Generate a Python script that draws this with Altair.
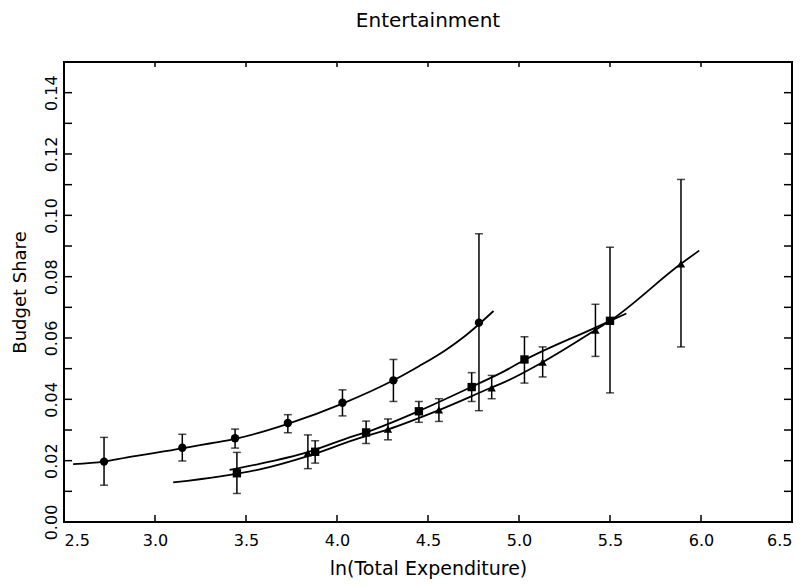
import altair as alt
import pandas as pd

# ---- axis ticks / labels ----
x_ticks = [2.5, 3.0, 3.5, 4.0, 4.5, 5.0, 5.5, 6.0, 6.5]
y_minor_ticks = [0.00, 0.01, 0.02, 0.03, 0.04, 0.05, 0.06, 0.07, 0.08,
                 0.09, 0.10, 0.11, 0.12, 0.13, 0.14, 0.15]
y_label_vals = [0.00, 0.02, 0.04, 0.06, 0.08, 0.10, 0.12, 0.14]

# ---- observed points with error bars ----
circle_x = [2.72, 3.15, 3.44, 3.73, 4.03, 4.31, 4.78]
circle_y = [0.0197, 0.0242, 0.0273, 0.0323, 0.0389, 0.0462, 0.0650]
circle_hi = [0.0276, 0.0286, 0.0303, 0.0350, 0.0431, 0.0530, 0.0940]
circle_lo = [0.0120, 0.0199, 0.0241, 0.0291, 0.0346, 0.0393, 0.0363]

square_x = [3.45, 3.88, 4.16, 4.45, 4.74, 5.03, 5.50]
square_y = [0.0159, 0.0229, 0.0292, 0.0361, 0.0440, 0.0530, 0.0656]
square_hi = [0.0227, 0.0265, 0.0329, 0.0393, 0.0487, 0.0604, 0.0896]
square_lo = [0.0093, 0.0192, 0.0256, 0.0325, 0.0393, 0.0453, 0.0421]

triangle_x = [3.84, 4.28, 4.56, 4.85, 5.13, 5.42, 5.89]
triangle_y = [0.0225, 0.0303, 0.0366, 0.0437, 0.0521, 0.0626, 0.0842]
triangle_hi = [0.0284, 0.0336, 0.0402, 0.0478, 0.0571, 0.0710, 0.1117]
triangle_lo = [0.0174, 0.0268, 0.0328, 0.0402, 0.0473, 0.0540, 0.0571]

# ---- fitted curves ----
circle_curve_x = [2.55, 2.72, 2.84, 3.15, 3.30, 3.44, 3.73, 4.03, 4.31, 4.45, 4.60, 4.70,
                  4.78, 4.86]
circle_curve_y = [0.0189, 0.0197, 0.0210, 0.0240, 0.0256, 0.0271, 0.0320, 0.0386, 0.0462,
                  0.0508, 0.0562, 0.0605, 0.0645, 0.0688]

square_curve_x = [3.41, 3.57, 3.84, 4.09, 4.16, 4.45, 4.74, 4.92, 5.03, 5.42, 5.50, 5.59]
square_curve_y = [0.0170, 0.0189, 0.0228, 0.0280, 0.0293, 0.0362, 0.0441, 0.0492, 0.0528,
                  0.0634, 0.0656, 0.0680]

triangle_curve_x = [3.10, 3.35, 3.57, 3.84, 4.09, 4.28, 4.56, 4.84, 4.92, 5.13, 5.42, 5.50,
                    5.89, 5.99]
triangle_curve_y = [0.0129, 0.0148, 0.0171, 0.0215, 0.0267, 0.0302, 0.0365, 0.0436, 0.0456,
                    0.0521, 0.0626, 0.0656, 0.0842, 0.0885]

# ---- tables ----
def pts(name, xs, ys, los, his):
    return pd.DataFrame({"series": name, "x": xs, "y": ys, "lo": los, "hi": his})

points = pd.concat([
    pts("circle", circle_x, circle_y, circle_lo, circle_hi),
    pts("square", square_x, square_y, square_lo, square_hi),
    pts("triangle", triangle_x, triangle_y, triangle_lo, triangle_hi),
], ignore_index=True)

def crv(name, xs, ys):
    return pd.DataFrame({"series": name, "x": xs, "y": ys, "order": list(range(len(xs)))})

curves = pd.concat([
    crv("circle", circle_curve_x, circle_curve_y),
    crv("square", square_curve_x, square_curve_y),
    crv("triangle", triangle_curve_x, triangle_curve_y),
], ignore_index=True)

W, H = 728, 460
FONT = "DejaVu Sans"

xscale = alt.Scale(domain=[2.5, 6.5], nice=False, zero=False)
yscale = alt.Scale(domain=[0.0, 0.15], nice=False, zero=False)

x_axis = alt.Axis(values=x_ticks, format=".1f", labelFlush=True, tickSize=0, domain=False,
                  grid=False, labelFont=FONT, labelFontSize=16, labelPadding=10,
                  labelColor="black", title="ln(Total Expenditure)", titleFont=FONT,
                  titleFontSize=19, titleFontWeight="normal", titleColor="black",
                  titlePadding=11)
y_axis = alt.Axis(values=y_label_vals, format=".2f", labelAngle=270, labelAlign="center",
                  labelBaseline="bottom", labelPadding=5, tickSize=0, domain=False, grid=False,
                  labelFont=FONT, labelFontSize=16, labelColor="black",
                  title="Budget Share", titleFont=FONT, titleFontSize=18,
                  titleFontWeight="normal", titleColor="black", titlePadding=14)

X = alt.X("x:Q", scale=xscale, axis=x_axis)
Y = alt.Y("y:Q", scale=yscale, axis=y_axis)

lines = alt.Chart(curves).mark_line(color="black", strokeWidth=1.8, interpolate="monotone").encode(
    x=X, y=Y, detail="series:N", order="order:Q")

bars = alt.Chart(points).mark_rule(color="black", strokeWidth=1.5).encode(
    x=X, y=alt.Y("lo:Q", scale=yscale, axis=y_axis), y2="hi:Q")

cap_hi = alt.Chart(points).mark_tick(color="black", orient="horizontal", size=8, thickness=1.5).encode(
    x=X, y=alt.Y("hi:Q", scale=yscale, axis=y_axis))
cap_lo = alt.Chart(points).mark_tick(color="black", orient="horizontal", size=8, thickness=1.5).encode(
    x=X, y=alt.Y("lo:Q", scale=yscale, axis=y_axis))

marks = alt.Chart(points).mark_point(filled=True, color="black", opacity=1, size=70).encode(
    x=X, y=Y,
    shape=alt.Shape("series:N", scale=alt.Scale(domain=["circle", "square", "triangle"],
                                                range=["circle", "square", "triangle-up"]),
                    legend=None))

# inward tick marks on all four sides
xt = pd.DataFrame({"x": x_ticks})
yt = pd.DataFrame({"y": y_minor_ticks})
xt_bottom = alt.Chart(xt).mark_rule(color="black", strokeWidth=1.5).encode(
    x=X, y=alt.value(H), y2=alt.value(H - 7))
xt_top = alt.Chart(xt).mark_rule(color="black", strokeWidth=1.5).encode(
    x=X, y=alt.value(0), y2=alt.value(5))
yt_left = alt.Chart(yt).mark_rule(color="black", strokeWidth=1.5).encode(
    y=Y, x=alt.value(0), x2=alt.value(8))
yt_right = alt.Chart(yt).mark_rule(color="black", strokeWidth=1.5).encode(
    y=Y, x=alt.value(W), x2=alt.value(W - 8))

chart = alt.layer(
    lines, bars, cap_hi, cap_lo, marks, xt_bottom, xt_top, yt_left, yt_right
).properties(
    width=W, height=H,
    autosize=alt.AutoSizeParams(type="none"),
    padding={"left": 56, "top": 54, "right": 6, "bottom": 62},
    title=alt.TitleParams("Entertainment", font=FONT, fontSize=20, fontWeight="normal",
                          color="black", anchor="middle", offset=30),
    background="white",
).configure_view(
    stroke="black", strokeWidth=2
)

chart.save("out.html", embed_options={"renderer": "svg", "actions": False})
